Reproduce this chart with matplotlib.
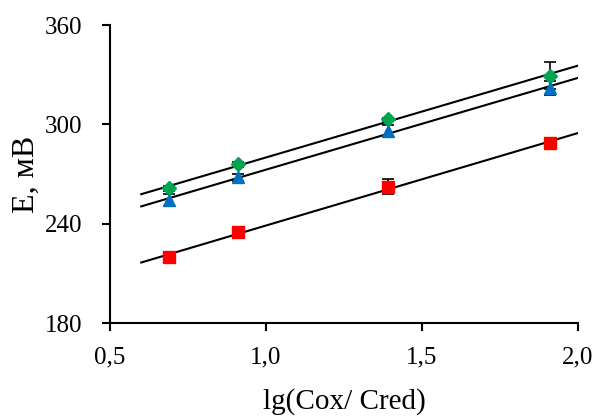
import matplotlib.pyplot as plt
import numpy as np

plt.rcParams['font.family'] = ['Liberation Serif', 'DejaVu Serif']

x = np.array([0.69, 0.91, 1.39, 1.91])
e_green = np.array([261.5, 276.0, 303.0, 329.5])
e_blue = np.array([254.5, 268.0, 296.0, 322.0])
e_red = np.array([220.0, 235.0, 262.5, 288.5])
err_green = np.array([1.5, 1.5, 1.0, 8.0])
err_blue = np.array([3.5, 2.0, 3.5, 4.5])
err_red = np.array([1.0, 1.0, 4.5, 1.0])

series = [
    (e_green, err_green, 'D', '#00A550', 7.5),
    (e_blue, err_blue, '^', '#0070C0', 9),
    (e_red, err_red, 's', '#FF0000', 8),
]

fig = plt.figure(figsize=(5.95, 4.17), dpi=100)
ax = fig.add_axes([0.185, 0.225, 0.786, 0.715])

x_fit = np.array([0.6, 2.0])
for y, err, marker, color, ms in series:
    k, b = np.polyfit(x, y, 1)
    ax.plot(x_fit, k * x_fit + b, color='black', lw=1.5, zorder=2)
    ax.errorbar(x, y, yerr=err, fmt='none', ecolor='black', elinewidth=1.2,
                capsize=4, capthick=1.2, zorder=3)
    ax.plot(x, y, marker, color=color, ms=ms, ls='none', zorder=4)

ax.set_xlim(0.5, 2.0)
ax.set_ylim(180, 360)
ax.set_xticks([0.5, 1.0, 1.5, 2.0])
ax.set_xticklabels(['0,5', '1,0', '1,5', '2,0'])
ax.set_yticks([180, 240, 300, 360])
ax.spines['top'].set_visible(False)
ax.spines['right'].set_visible(False)
ax.spines['left'].set_linewidth(1.5)
ax.spines['bottom'].set_linewidth(1.5)
ax.tick_params(direction='out', length=6, width=1.5, labelsize=18)
ax.tick_params(axis='x', pad=11)
ax.tick_params(axis='y', pad=14)
ax.set_xlabel('lg(Cox/ Cred)', fontsize=21, labelpad=14)
ax.set_ylabel('E, мВ', fontsize=23, labelpad=3)

fig.savefig('out.png', dpi=100)
